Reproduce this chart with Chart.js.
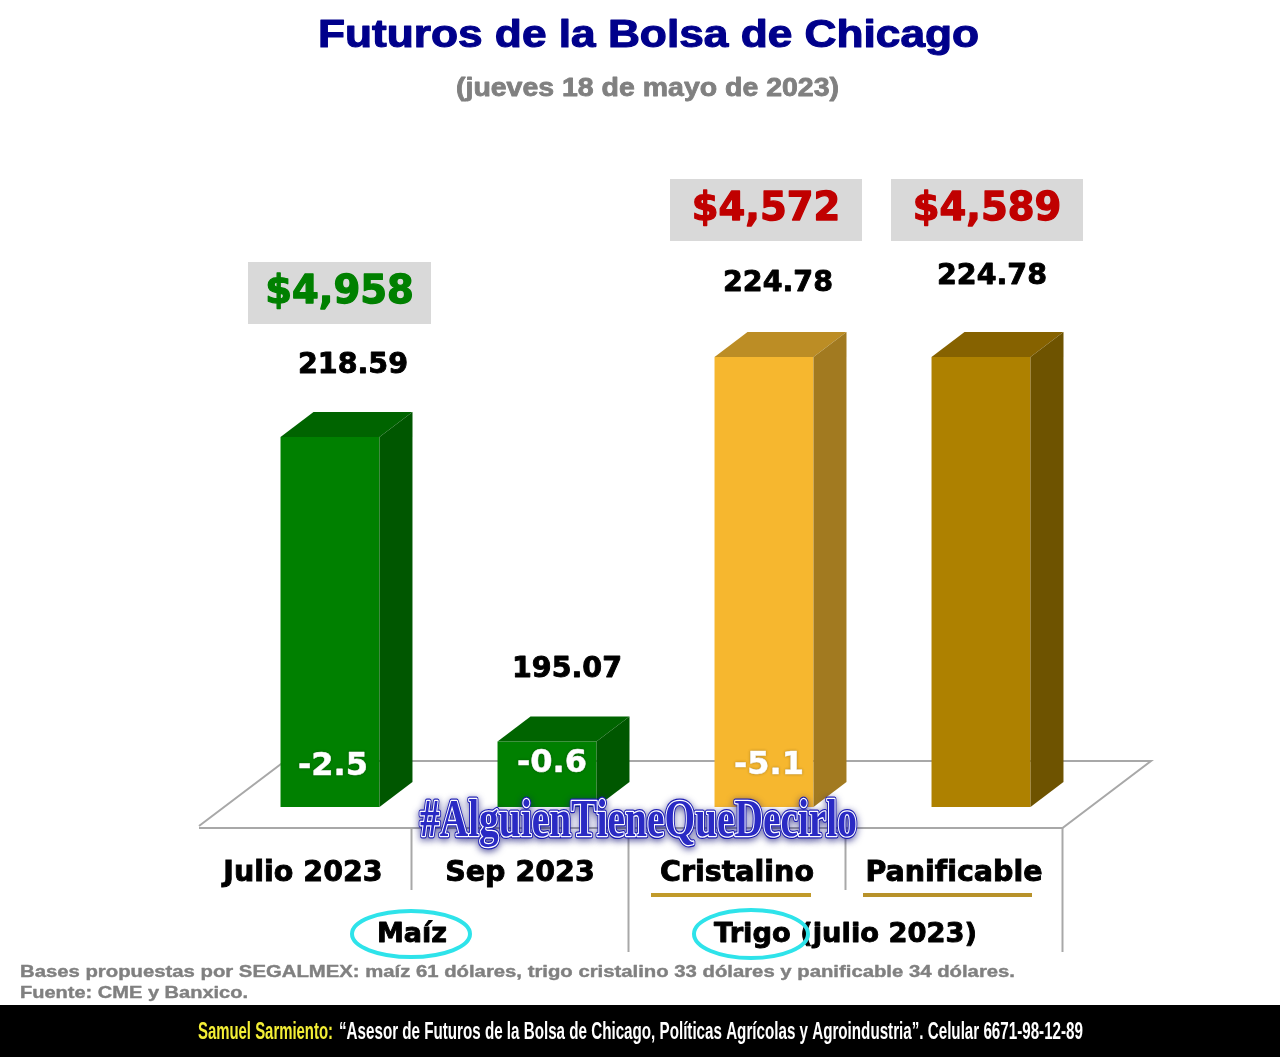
<!DOCTYPE html>
<html lang="es">
<head>
<meta charset="utf-8">
<title>Futuros de la Bolsa de Chicago</title>
<script src="https://cdn.jsdelivr.net/npm/chart.js@4/dist/chart.umd.min.js"></script>
<style>html,body{margin:0;padding:0;background:#fff}canvas{display:block}</style>
</head>
<body>
<canvas id="c" width="1280" height="1057"></canvas>
<script>
const categories = ['Julio 2023', 'Sep 2023', 'Cristalino', 'Panificable'];
const futures = [218.59, 195.07, 224.78, 224.78];
const changes = ['-2.5', '-0.6', '-5.1', ''];
const prices = ['$4,958', '', '$4,572', '$4,589'];
const frontColors = ['#008000', '#008000', '#f6b72f', '#ae8100'];
const topColors = ['#006400', '#006400', '#bc8d25', '#866200'];
const sideColors = ['#005700', '#005700', '#a27a20', '#6e5300'];
const priceColors = ['#008000', '', '#c00000', '#c00000'];
const title = 'Futuros de la Bolsa de Chicago';
const subtitle = '(jueves 18 de mayo de 2023)';
const hashtag = '#AlguienTieneQueDecirlo';
const note1 = 'Bases propuestas por SEGALMEX: maíz 61 dólares, trigo cristalino 33 dólares y panificable 34 dólares.';
const note2 = 'Fuente: CME y Banxico.';
const footerName = 'Samuel Sarmiento:';
const footerText = '“Asesor de Futuros de la Bolsa de Chicago, Políticas Agrícolas y Agroindustria”. Celular 6671-98-12-89';

const DX = 33, DY = 25, LABEL_SHIFT = -27;
const BLACK_FONT = '"DejaVu Sans"';

function fit(ctx, text, x, y, width, font, color, stroke) {
  ctx.save();
  ctx.font = font;
  ctx.textAlign = 'left';
  ctx.textBaseline = 'middle';
  const w = ctx.measureText(text).width;
  ctx.translate(x, y);
  ctx.scale(width / w, 1);
  if (stroke) { ctx.lineWidth = stroke; ctx.strokeStyle = color; ctx.lineJoin = 'round'; ctx.strokeText(text, 0, 0); }
  ctx.fillStyle = color;
  ctx.fillText(text, 0, 0);
  ctx.restore();
}
function line(ctx, pts, color, w) {
  ctx.strokeStyle = color; ctx.lineWidth = w;
  ctx.beginPath();
  pts.forEach((p, i) => i ? ctx.lineTo(p[0], p[1]) : ctx.moveTo(p[0], p[1]));
  ctx.stroke();
}
function poly(ctx, pts, color) {
  ctx.fillStyle = color;
  ctx.beginPath();
  pts.forEach((p, i) => i ? ctx.lineTo(p[0], p[1]) : ctx.moveTo(p[0], p[1]));
  ctx.closePath();
  ctx.fill();
}
function boldText(ctx, text, x, y, strokeW) {
  ctx.lineJoin = 'round';
  ctx.lineWidth = strokeW;
  ctx.strokeStyle = ctx.fillStyle;
  ctx.strokeText(text, x, y);
  ctx.fillText(text, x, y);
}

const scene = {
  id: 'scene',
  beforeDatasetsDraw(chart) {
    const ctx = chart.ctx, x = chart.scales.x, b = chart.chartArea.bottom;
    const half = (x.getPixelForTick(1) - x.getPixelForTick(0)) / 2;
    const edge = i => x.getPixelForTick(i) + half + LABEL_SHIFT;
    ctx.save();
    line(ctx, [[199, b + 21], [edge(3), b + 21], [1151, b - 46], [285, b - 46], [199, b + 19]], '#a8a8a8', 2);
    line(ctx, [[edge(0), b + 21], [edge(0), b + 83]], '#a8a8a8', 2);
    line(ctx, [[edge(1), b + 21], [edge(1), b + 145]], '#a8a8a8', 2);
    line(ctx, [[edge(2), b + 21], [edge(2), b + 83]], '#a8a8a8', 2);
    line(ctx, [[edge(3), b + 21], [edge(3), b + 145]], '#a8a8a8', 2);
    ctx.restore();
  },
  afterDatasetsDraw(chart) {
    const ctx = chart.ctx;
    const bars = chart.getDatasetMeta(0).data;
    const bt = chart.scales.y.getPixelForValue(chart.scales.y.min);
    ctx.save();
    bars.forEach((bar, i) => {
      const l = bar.x - bar.width / 2, r = bar.x + bar.width / 2, t = bar.y;
      poly(ctx, [[l, t], [l + DX, t - DY], [r + DX, t - DY], [r, t]], topColors[i]);
      poly(ctx, [[r, t], [r + DX, t - DY], [r + DX, bt - DY], [r, bt]], sideColors[i]);
    });
    const valueOffset = [[23, -71], [20, -72], [14, -73], [11, -80]];
    ctx.textAlign = 'center'; ctx.textBaseline = 'middle';
    ctx.font = 'bold 28.5px ' + BLACK_FONT;
    ctx.fillStyle = '#000';
    bars.forEach((bar, i) => {
      boldText(ctx, futures[i].toFixed(2), bar.x + valueOffset[i][0], bar.y + valueOffset[i][1], 0.9);
    });
    const inner = [[3, 767], [5, 764], [5, 766]];
    ctx.font = 'bold 32px ' + BLACK_FONT;
    ctx.fillStyle = '#fff';
    bars.forEach((bar, i) => {
      if (changes[i]) {
        ctx.shadowColor = 'rgba(0,0,0,0.25)'; ctx.shadowBlur = 3;
        boldText(ctx, changes[i], bar.x + inner[i][0], inner[i][1], 0.6);
      }
    });
    ctx.shadowColor = 'transparent'; ctx.shadowBlur = 0;
    const boxes = [[248, 262, 183], null, [670, 179, 192], [891, 179, 192]];
    bars.forEach((bar, i) => {
      if (!boxes[i]) return;
      const [bx, by, bw] = boxes[i];
      ctx.fillStyle = '#d9d9d9';
      ctx.fillRect(bx, by, bw, 62);
      ctx.fillStyle = priceColors[i];
      ctx.font = 'bold 38.5px ' + BLACK_FONT;
      boldText(ctx, prices[i], bx + bw / 2, by + 31, 1.3);
    });
    ctx.restore();
  },
  afterDraw(chart) {
    const ctx = chart.ctx;
    ctx.save();
    ctx.textAlign = 'center'; ctx.textBaseline = 'middle';
    fit(ctx, title, 318, 37, 661, 'bold 38px "Liberation Sans"', '#00008b', 1.1);
    fit(ctx, subtitle, 456, 89, 383, 'bold 25px "Liberation Sans"', '#808080', 0.8);
    line(ctx, [[651, 895], [811, 895]], '#c19a2a', 4);
    line(ctx, [[863, 895], [1032, 895]], '#b8922a', 4);
    ctx.fillStyle = '#000';
    ctx.font = 'bold 27px ' + BLACK_FONT;
    ctx.textAlign = 'left';
    boldText(ctx, 'Maíz', 377, 935, 0.9);
    fit(ctx, 'Trigo (julio 2023)', 714, 935, 263, 'bold 27px ' + BLACK_FONT, '#000', 0.9);
    ctx.strokeStyle = '#2ee3ea'; ctx.lineWidth = 4;
    ctx.beginPath(); ctx.ellipse(411, 934, 59, 23, 0, 0, Math.PI * 2); ctx.stroke();
    ctx.beginPath(); ctx.ellipse(751, 934, 57, 24, 0, 0, Math.PI * 2); ctx.stroke();
    ctx.font = 'bold 52px "Liberation Serif"';
    const w = ctx.measureText(hashtag).width;
    ctx.save();
    ctx.translate(420, 823);
    ctx.scale(437 / w, 1);
    ctx.textAlign = 'left';
    ctx.shadowColor = 'rgba(20,20,120,0.75)'; ctx.shadowBlur = 7; ctx.shadowOffsetY = 2;
    ctx.lineJoin = 'round'; ctx.lineWidth = 5; ctx.strokeStyle = '#1c1cb4';
    ctx.strokeText(hashtag, 0, 0);
    ctx.shadowColor = 'transparent';
    ctx.lineWidth = 2.6; ctx.strokeStyle = '#ffffff';
    ctx.strokeText(hashtag, 0, 0);
    ctx.fillStyle = '#2a2ac4';
    ctx.fillText(hashtag, 0, 0);
    ctx.restore();
    fit(ctx, note1, 20, 972, 995, 'bold 16.5px "Liberation Sans"', '#808080', 0.4);
    fit(ctx, note2, 20, 993, 228, 'bold 16.5px "Liberation Sans"', '#808080', 0.4);
    ctx.fillStyle = '#000';
    ctx.fillRect(0, 1005, 1280, 52);
    fit(ctx, footerName, 198, 1032, 135, 'bold 24px "Liberation Sans"', '#f3ee35');
    fit(ctx, footerText, 339, 1032, 744, 'bold 24px "Liberation Sans"', '#ffffff');
    ctx.restore();
  }
};

new Chart(document.getElementById('c'), {
  type: 'bar',
  data: {
    labels: categories,
    datasets: [{
      data: futures,
      backgroundColor: frontColors,
      borderWidth: 0,
      categoryPercentage: 1,
      barPercentage: 0.456
    }]
  },
  options: {
    responsive: false,
    animation: false,
    layout: { padding: { left: 221.5, right: 190.5, top: 289.4, bottom: 0 } },
    plugins: { legend: { display: false }, tooltip: { enabled: false }, title: { display: false } },
    scales: {
      y: { display: false, min: 190, max: 230 },
      x: {
        afterFit(s) { s.height = 250; },
        grid: { display: false, drawTicks: false },
        border: { display: false },
        ticks: {
          padding: 49,
          labelOffset: LABEL_SHIFT,
          maxRotation: 0,
          color: '#000',
          textStrokeColor: '#000',
          textStrokeWidth: 0.9,
          font: { family: 'DejaVu Sans', weight: 'bold', size: 28.5 }
        }
      }
    }
  },
  plugins: [scene]
});
</script>
</body>
</html>
